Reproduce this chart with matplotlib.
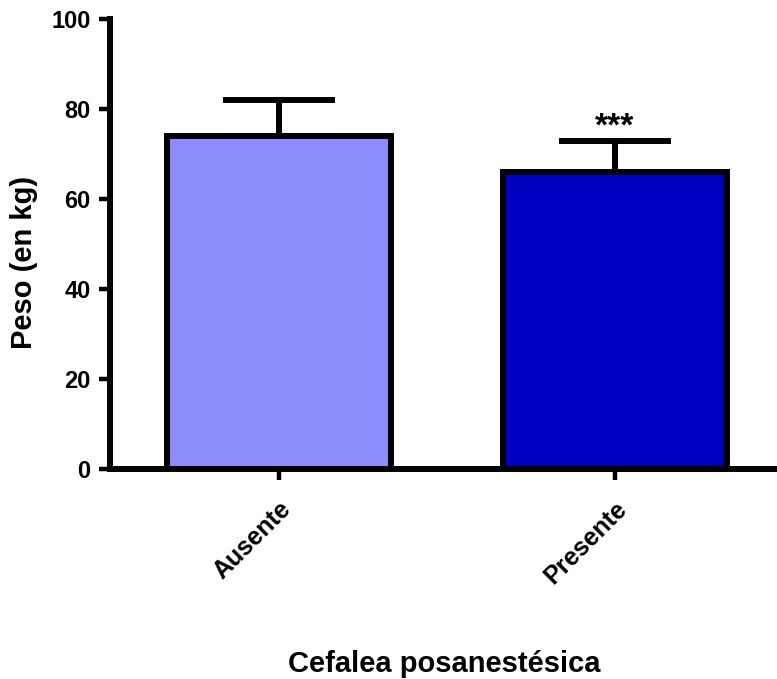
import matplotlib
matplotlib.use('Agg')
import matplotlib.pyplot as plt

# data
categories = ['Ausente', 'Presente']
means = [74, 66]
errors_up = [8, 7]
bar_colors = ['#8c8cff', '#0000c0']
significance = ['', '***']

plt.rcParams['font.family'] = ['Liberation Sans', 'DejaVu Sans']
plt.rcParams['font.weight'] = 'bold'

fig = plt.figure(figsize=(7.77, 6.79), dpi=100)
ax = fig.add_axes([110 / 777, 1 - 469 / 679, 667 / 777, 450 / 679])

xpos = list(range(len(categories)))
ax.bar(xpos, means, width=0.665, color=bar_colors, edgecolor='black',
       linewidth=4.3, zorder=2)
ax.errorbar(xpos, means, yerr=[[0] * len(means), errors_up], fmt='none',
            ecolor='black', elinewidth=4.3, capsize=40, capthick=4.3, zorder=1)

for x, m, e, s in zip(xpos, means, errors_up, significance):
    if s:
        ax.text(x, m + e - 0.4, s, ha='center', va='bottom', fontsize=24,
                fontweight='bold')

ax.set_xlim(-0.503, 1.482)
ax.set_ylim(0, 100)
ax.set_yticks([0, 20, 40, 60, 80, 100])
ax.set_xticks(xpos)
ax.set_xticklabels(categories, rotation=45, ha='right', va='top',
                   rotation_mode='anchor', fontsize=18, fontweight='bold')
ax.tick_params(axis='y', labelsize=17, width=3.2, length=8, pad=6)
ax.tick_params(axis='x', width=3.2, length=8, pad=12)

for side in ['top', 'right']:
    ax.spines[side].set_visible(False)
for side in ['left', 'bottom']:
    ax.spines[side].set_linewidth(4.3)
    ax.spines[side].set_capstyle('projecting')

ax.set_ylabel('Peso (en kg)', fontsize=21, fontweight='bold')
ax.yaxis.set_label_coords(-0.108, 0.46)
ax.set_xlabel('Cefalea posanestésica', fontsize=21, fontweight='bold')
ax.xaxis.set_label_coords(0.5015, -0.402)

fig.savefig('out.png', dpi=100)
